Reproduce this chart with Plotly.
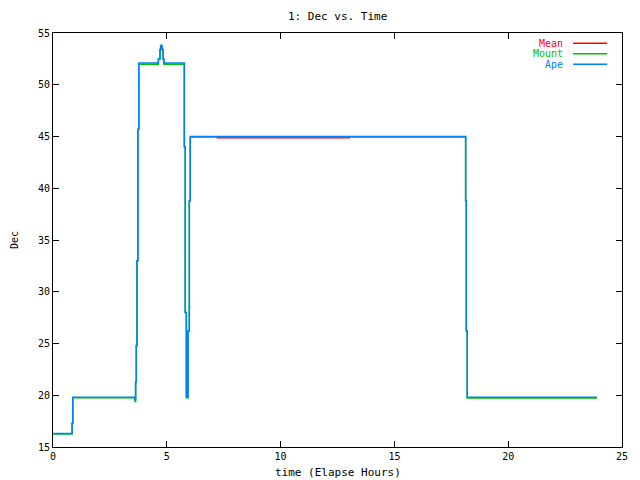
import plotly.graph_objects as go

# ---- data (step series, value holds from time t until the next time) ----
ape_time = [0.0, 0.84, 0.87, 3.60, 3.63, 3.66, 3.69, 3.73, 3.77, 4.63, 4.70, 4.73,
            4.79, 4.84, 4.87, 5.77, 5.81, 5.86, 5.93, 5.99, 6.03, 18.13, 18.16, 18.20, 23.9]
ape_dec = [16.3, 17.3, 19.8, 19.6, 21.3, 24.8, 33.0, 45.7, 52.1, 52.5, 53.4, 53.8,
           53.4, 52.5, 52.1, 44.0, 28.0, 19.8, 26.2, 38.8, 45.0, 38.8, 26.2, 19.8, 19.8]

mount_time = [0.0, 0.84, 0.87, 3.60, 3.63, 3.66, 3.69, 3.73, 3.77, 4.63, 4.70, 4.73,
              4.79, 4.84, 4.87, 5.77, 5.81, 5.86, 5.93, 5.99, 6.03, 18.13, 18.16, 18.20, 23.9]
mount_dec = [16.25, 17.3, 19.75, 19.4, 21.3, 24.8, 33.0, 45.7, 51.97, 52.5, 53.4, 53.8,
             53.4, 52.5, 51.97, 44.0, 28.0, 19.75, 26.2, 38.8, 44.95, 38.8, 26.2, 19.74, 19.74]

mean_time = [7.19, 13.05]
mean_dec = [44.88, 44.88]

legend_names = ["Mean", "Mount", "Ape"]
colors = {"Mean": "#ff0000", "Mount": "#00c000", "Ape": "#0080ff"}

x_ticks = [0, 5, 10, 15, 20, 25]
y_ticks = [15, 20, 25, 30, 35, 40, 45, 50, 55]

FONT = "DejaVu Sans Mono"

fig = go.Figure()
fig.add_trace(go.Scatter(x=mean_time, y=mean_dec, mode="lines", name="Mean",
                         line=dict(color=colors["Mean"], width=1.5, shape="hv")))
fig.add_trace(go.Scatter(x=mount_time, y=mount_dec, mode="lines", name="Mount",
                         line=dict(color=colors["Mount"], width=1.5, shape="hv")))
fig.add_trace(go.Scatter(x=ape_time, y=ape_dec, mode="lines", name="Ape",
                         line=dict(color=colors["Ape"], width=1.5, shape="hv")))

axis_common = dict(showgrid=False, zeroline=False, showline=True, linecolor="black",
                   linewidth=1, mirror="ticks", ticks="inside", ticklen=6,
                   tickcolor="black", tickfont=dict(family=FONT, size=10, color="black"))

# page has an 8px body margin, so margins are reduced to land the plot area at
# the same spot as the reference (x 53..622, y 33..447 in window pixels)
fig.update_layout(
    width=640, height=480,
    margin=dict(l=45, r=26, t=25, b=41),
    paper_bgcolor="white", plot_bgcolor="white",
    showlegend=False,
    font=dict(family=FONT, size=10, color="black"),
    xaxis=dict(range=[0, 25], tickvals=x_ticks, **axis_common),
    yaxis=dict(range=[15, 55], tickvals=y_ticks, **axis_common),
)

annotations = [
    dict(text="1: Dec vs. Time", xref="paper", yref="paper", x=0.5, y=1,
         yshift=17, showarrow=False, yanchor="middle", font=dict(family=FONT, size=11)),
    dict(text="time (Elapse Hours)", xref="paper", yref="paper", x=0.5, y=0,
         yshift=-25, showarrow=False, yanchor="middle", font=dict(family=FONT, size=11)),
    dict(text="Dec", xref="paper", yref="paper", x=0, y=0.5, xshift=-39,
         textangle=-90, showarrow=False, xanchor="center", font=dict(family=FONT, size=10)),
]
shapes = []
rows = [0.975, 0.950, 0.9244]
for name, yy in zip(legend_names, rows):
    annotations.append(dict(text=name, xref="paper", yref="paper", x=0.8998, y=yy,
                            xanchor="right", yanchor="middle", showarrow=False,
                            font=dict(family=FONT, size=10, color=colors[name])))
    shapes.append(dict(type="line", xref="paper", yref="paper", x0=0.914, x1=0.974,
                       y0=yy, y1=yy, line=dict(color=colors[name], width=1.5)))

fig.update_layout(annotations=annotations, shapes=shapes)
fig.write_html("out.html")
